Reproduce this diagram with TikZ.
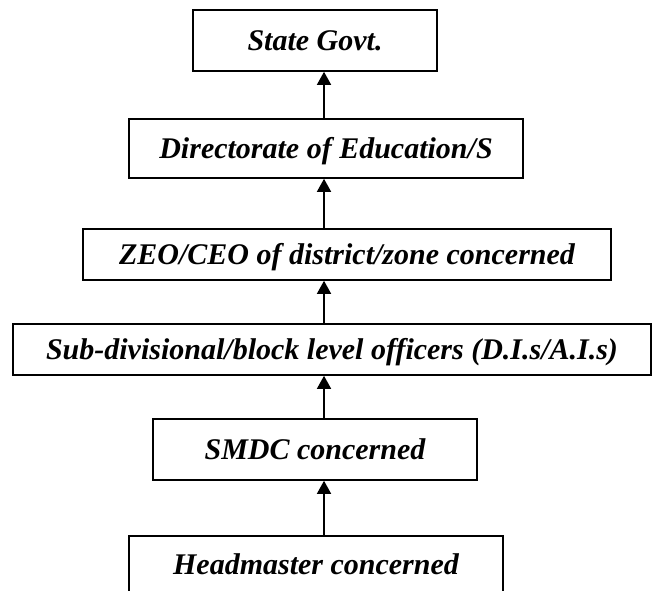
\documentclass[tikz,border=0pt]{standalone}
\usepackage{fontspec}
\setmainfont{Liberation Serif}
\usetikzlibrary{arrows.meta}
\begin{document}
\begin{tikzpicture}[x=1pt,y=-1pt,
  box/.style={draw, line width=1.6pt, inner sep=0pt, align=center,
    font=\fontsize{30}{36}\selectfont\bfseries\itshape,
    text height=20pt, text depth=0pt},
  uparrow/.style={line width=1.5pt, -{Triangle[length=13pt,width=14pt]}}]
  \useasboundingbox (0,0) rectangle (652,590);
  % hierarchy of offices, lowest at the bottom
  \node[box, minimum width=244pt, minimum height=61pt] (state) at (315,40.5) {State Govt.};
  \node[box, minimum width=394pt, minimum height=59pt] (dir) at (326,148.5) {Directorate of Education/S};
  \node[box, minimum width=528pt, minimum height=51pt] (zeo) at (347,254.5) {ZEO/CEO of district/zone concerned};
  \node[box, minimum width=638pt, minimum height=51pt] (sub) at (332,349.5) {Sub-divisional/block level officers (D.I.s/A.I.s)};
  \node[box, minimum width=324pt, minimum height=61pt] (smdc) at (315,449.5) {SMDC concerned};
  \node[box, minimum width=374pt, minimum height=57pt] (head) at (316,564.5) {Headmaster concerned};
  % common x of the connecting arrows
  \coordinate (ax) at (324,0);
  \draw[uparrow] (head.north -| ax) -- (smdc.south -| ax);
  \draw[uparrow] (smdc.north -| ax) -- (sub.south -| ax);
  \draw[uparrow] (sub.north -| ax) -- (zeo.south -| ax);
  \draw[uparrow] (zeo.north -| ax) -- (dir.south -| ax);
  \draw[uparrow] (dir.north -| ax) -- (state.south -| ax);
\end{tikzpicture}
\end{document}
